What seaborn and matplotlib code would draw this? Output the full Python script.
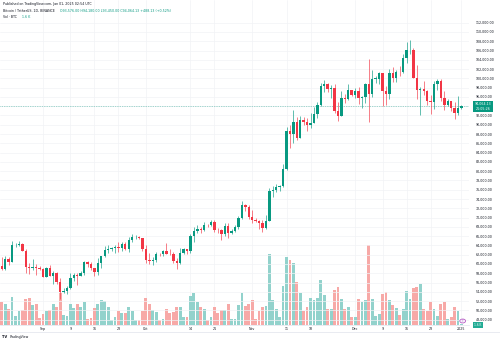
import numpy as np
import pandas as pd
import matplotlib
matplotlib.use("Agg")
import matplotlib.pyplot as plt
import seaborn as sns
from matplotlib.patches import Circle

sns.set_theme(style="white")
plt.rcParams["font.family"] = ["DejaVu Sans"]

# ---------------- data (BTC/USDT daily, Binance) ----------------
dates = pd.date_range("2024-08-20", "2025-01-01", freq="D")

opens = [
    59493, 59013, 61157, 60381, 64094, 64178, 64220, 62834, 59415, 59034, 59359, 59123,
    58973, 57301, 59132, 57487, 57970, 56160, 53962, 54160, 54869, 57042, 57635, 57338, 58132, 60498, 59993,
    59132, 58213, 60310, 61759, 62947, 63201, 63348, 63578, 63339, 64262, 63152, 65173, 65769, 65858, 65602,
    63327, 60805, 60649, 60752, 62086, 62058, 62819, 62224, 62134, 60582, 60275, 62445, 63193, 62851, 66046,
    67041, 67612, 67399, 68418, 68362, 69001, 67367, 67361, 66432, 68161, 66642, 67014, 67930, 69907, 72720, 72339,
    70215, 69482, 69289, 68741, 67811, 69359, 75640, 75904, 76545, 76778, 80474, 88702, 87955, 90585, 87251,
    91032, 90587, 89855, 90465, 92310, 94287, 98318, 98892, 97672, 97901, 93010, 91965, 95864, 95643, 97461,
    96408, 97185, 95841, 96002, 98768, 96593, 99920, 99923, 101170, 97355, 96675, 101173, 100043, 101460, 101372,
    104299, 106029, 106140, 100041, 97490, 97756, 97225, 95105, 94875, 98689, 99347, 95705, 94165, 95163, 93530, 92643,
    93576,
]
highs = [
    61400, 61820, 61400, 64955, 64500, 65000, 64480, 63212, 60234, 61166, 59944, 59462,
    59054, 59425, 59809, 58519, 58327, 56995, 54850, 55318, 58088, 58044, 57981, 58588, 60625, 60610, 60395,
    59210, 61320, 61786, 63850, 64133, 63559, 64000, 64745, 64688, 64817, 65839, 66498, 66260, 66076, 65618,
    64130, 62390, 61477, 62484, 62370, 62975, 64478, 63200, 62543, 61321, 63417, 63480, 63285, 66500, 67950,
    68424, 67939, 68969, 68668, 69400, 69500, 67836, 67450, 68850, 68771, 67454, 68333, 70270, 73620, 72961, 72700,
    71632, 70000, 69380, 69433, 70522, 76400, 76849, 77199, 76932, 81500, 89604, 89940, 93265, 91765, 91850,
    91779, 91449, 92594, 93905, 94831, 98988, 99588, 98899, 98564, 98871, 94973, 97208, 96650, 98693, 97463,
    97836, 98130, 96305, 99000, 104088, 101898, 100551, 101399, 101215, 98270, 101935, 102540, 101895, 102650, 105250,
    107793, 108353, 106470, 102800, 98154, 99540, 97400, 96415, 99478, 99963, 99884, 97294, 95525, 95174, 94903, 96150,
    94180,
]
lows = [
    58600, 58783, 59700, 60345, 63580, 63800, 62800, 58034, 57860, 58713, 57700, 58744,
    57118, 57128, 57415, 55606, 55643, 52550, 53745, 53629, 54591, 56386, 55545, 57324, 57632, 59400, 58692,
    57493, 57610, 59174, 61555, 62350, 62758, 62357, 62538, 62700, 62947, 62670, 64819, 65422, 65432, 62856,
    60164, 60000, 59828, 60459, 61689, 61798, 62128, 61860, 60300, 58946, 60087, 62209, 62050, 62457, 64800,
    66750, 66666, 67177, 68020, 68100, 66835, 66571, 65260, 66048, 65520, 66439, 66813, 67618, 69730, 71436, 69685,
    68820, 68960, 67455, 66803, 67458, 69298, 74417, 75466, 75773, 76492, 80216, 85073, 86128, 86669, 87073,
    90057, 88723, 89376, 90357, 91500, 94040, 97122, 97136, 95734, 92600, 90791, 91792, 94677, 95407, 96150,
    95693, 94395, 93579, 94660, 90500, 95981, 98950, 98771, 94150, 94256, 95500, 99311, 99206, 100610, 101227,
    103280, 105321, 100000, 95587, 92175, 96398, 94202, 92403, 93435, 97595, 95115, 93253, 94014, 92881, 91317, 92093,
    93450,
]
closes = [
    59013, 61157, 60381, 64094, 64178, 64220, 62834, 59415, 59034, 59359, 59123, 58973,
    57301, 59132, 57487, 57970, 56160, 53962, 54160, 54869, 57042, 57635, 57338, 58132, 60498, 59993, 59132,
    58213, 60310, 61759, 62947, 63201, 63348, 63578, 63339, 64262, 63152, 65173, 65769, 65858, 65602, 63327,
    60805, 60649, 60752, 62086, 62058, 62819, 62224, 62134, 60582, 60275, 62445, 63193, 62851, 66046, 67041,
    67612, 67399, 68418, 68362, 69001, 67367, 67361, 66432, 68161, 66642, 67014, 67930, 69907, 72720, 72339, 70215,
    69482, 69289, 68741, 67811, 69359, 75640, 75904, 76545, 76778, 80474, 88702, 87955, 90585, 87251, 91032,
    90587, 89855, 90465, 92310, 94287, 98318, 98892, 97672, 97901, 93010, 91965, 95864, 95643, 97461, 96408,
    97185, 95841, 96002, 98768, 96593, 99920, 99923, 101170, 97355, 96675, 101173, 100043, 101460, 101372, 104299,
    106029, 106140, 100041, 97490, 97756, 97225, 95105, 94875, 98689, 99347, 95705, 94165, 95163, 93530, 92643, 93576,
    94064.13,
]
volumes_k = [
    35, 32, 25, 43, 14, 21, 23, 40, 42, 31, 32, 11,
    17, 22, 23, 32, 27, 49, 15, 14, 33, 26, 32, 27, 35, 10, 11,
    26, 33, 38, 37, 28, 8, 13, 22, 19, 18, 27, 22, 8, 8, 21,
    41, 33, 23, 20, 7, 9, 25, 19, 20, 28, 27, 12, 12, 45, 50,
    35, 27, 24, 8, 12, 28, 19, 23, 23, 33, 10, 10, 31, 50, 29, 32,
    38, 10, 21, 27, 30, 110, 39, 25, 12, 60, 105, 100, 95, 66, 50,
    22, 27, 42, 38, 42, 70, 46, 24, 25, 54, 59, 40, 25, 27, 12,
    13, 40, 35, 38, 123, 40, 14, 17, 48, 51, 38, 31, 26, 16, 24,
    52, 40, 57, 58, 63, 25, 22, 35, 24, 14, 33, 36, 9, 13, 27, 21,
    1.6,
]

tick_dates = ["2024-09-01", "2024-09-09", "2024-09-16", "2024-09-23", "2024-10-01",
              "2024-10-14", "2024-10-21", "2024-11-01", "2024-11-11", "2024-11-18",
              "2024-12-01", "2024-12-09", "2024-12-16", "2024-12-23", "2025-01-01"]
tick_labels = ["Sep", "9", "16", "23", "Oct", "14", "21", "Nov", "11", "18",
               "Dec", "9", "16", "23", "2025"]
price_ticks = list(range(48000, 112001, 2000))
last_price = 94064.13

UP, DOWN = "#089981", "#F23645"
VUP, VDOWN = "#92D2CC", "#F7A9A7"
TXT = "#131722"
GRID = "#F2F3F6"

# ---------------- figure ----------------
W, H = 500, 342
fig = plt.figure(figsize=(W / 100, H / 100), dpi=100)
fig.patch.set_facecolor("white")

def fx(px):
    return px / W

def fy(py):
    return 1 - py / H

plot_right, plot_bottom = 469, 325
axv = fig.add_axes([0, fy(plot_bottom), fx(plot_right), plot_bottom / H])
ax = axv.twinx()

idx = np.asarray((dates - dates[0]).days)
o = np.array(opens, float)
h = np.array(highs, float)
l = np.array(lows, float)
c = np.array(closes, float)
up = c >= o

vol_df = pd.DataFrame({"idx": idx, "vol": np.array(volumes_k) * 1000.0,
                       "dir": np.where(up, "up", "down")})
sns.barplot(data=vol_df, x="idx", y="vol", hue="dir",
            palette={"up": VUP, "down": VDOWN}, native_scale=True, dodge=False,
            width=0.82, saturation=1, errorbar=None, legend=False, ax=axv,
            linewidth=0)

# candles
cols = np.where(up, UP, DOWN)
ax.vlines(idx, l, h, colors=cols, linewidth=0.45, zorder=3)
ax.bar(idx, np.maximum(np.abs(c - o), 60), bottom=np.minimum(o, c), width=0.7,
       color=cols, linewidth=0, zorder=4)
ax.axhline(last_price, color=UP, lw=0.5, ls=(0, (1, 1.5)), alpha=0.7, zorder=2)

tick_idx = [(pd.Timestamp(d) - dates[0]).days for d in tick_dates]
axv.set_xlim(-0.525, 136.2)
axv.set_ylim(0, 500000)
ax.set_ylim(46849, 116892)

axv.set_xticks(tick_idx, tick_labels)
axv.set_yticks([])
axv.set_xlabel("")
axv.set_ylabel("")
axv.tick_params(axis="x", length=0, pad=1.6, labelsize=2.3, labelcolor=TXT)
axv.grid(axis="x", color=GRID, lw=0.5)
axv.set_axisbelow(True)

ax.set_yticks(price_ticks, ["" if p == 94000 else f"{p:,.2f}" for p in price_ticks])
ax.tick_params(axis="y", length=0, pad=5, labelsize=2.3, labelcolor=TXT)
ax.grid(axis="y", color=GRID, lw=0.5)
ax.set_ylabel("")

for a in (ax, axv):
    for s in a.spines.values():
        s.set_visible(False)
axv.spines["bottom"].set_visible(True)
axv.spines["bottom"].set_color("#E0E3EB")
axv.spines["bottom"].set_linewidth(0.5)

# bottom separator line
fig.add_artist(plt.Line2D([0, 1], [fy(332), fy(332)], color="#E0E3EB", lw=0.5))

# ---------------- texts ----------------
fig.text(fx(2.7), fy(4.2), "Published on TradingView.com, Jan 01, 2025 02:54 UTC",
         fontsize=2.3, color=TXT, va="center", ha="left")
fig.text(fx(2.7), fy(11.2), "Bitcoin / TetherUS, 1D, BINANCE",
         fontsize=2.3, color=TXT, va="center", ha="left")
fig.text(fx(59.5), fy(11.2),
         "O93,576.00 H94,180.00 L93,450.00 C94,064.13 +488.13 (+0.52%)",
         fontsize=2.3, color=UP, va="center", ha="left")
fig.text(fx(2.7), fy(17.5), "Vol · BTC", fontsize=2.3, color=TXT, va="center", ha="left")
fig.text(fx(21.5), fy(17.5), "1.6 K", fontsize=2.3, color=UP, va="center", ha="left")

# last price label
fig.text(fx(483), fy(106.5), f"{last_price:,.2f}\n21:05:26", fontsize=2.3,
         color="white", ha="center", va="center", linespacing=1.1,
         bbox=dict(boxstyle="square,pad=0.5", fc=UP, ec="none"))
# volume label
fig.text(fx(478), fy(324.8), "1.6 K", fontsize=2.1, color="white", ha="center",
         va="center", bbox=dict(boxstyle="square,pad=0.35", fc="#22AB94", ec="none"))
# event marker
fig.add_artist(Circle((fx(462.7), fy(321)), 0.0058, transform=fig.transFigure,
                      fc="#F6EEFA", ec="#AB47BC", lw=0.5))
fig.text(fx(462.7), fy(321), "?", fontsize=2, color="#AB47BC", ha="center", va="center")

# footer
fig.text(fx(2.5), fy(337), "TV", fontsize=2.6, color=TXT, weight="bold",
         ha="left", va="center")
fig.text(fx(9.5), fy(337), "TradingView", fontsize=2.3, color=TXT,
         ha="left", va="center")

fig.savefig("out.png", dpi=100, facecolor="white")
